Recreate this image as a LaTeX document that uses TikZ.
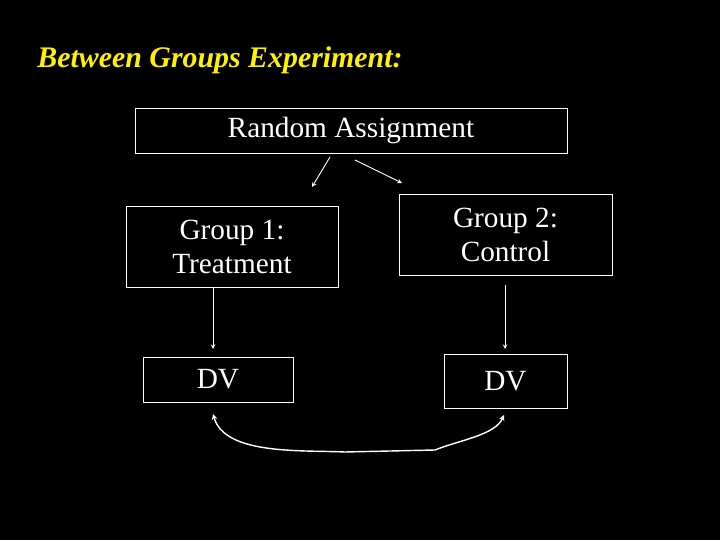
\documentclass[tikz,border=0pt]{standalone}
\usepackage{fontspec}
\setmainfont{Liberation Serif}
\begin{document}
\begin{tikzpicture}[x=0.03cm,y=-0.03cm,
 bx/.style={draw=white,line width=0.6pt,fill=black,text=white,font=\fontsize{25}{29}\selectfont,align=center},
 ar/.style={draw=white,line width=0.8pt,-stealth}]
\fill[black] (0,0) rectangle (720,540);
\node[font=\fontsize{25.5}{29}\selectfont\bfseries\itshape,text=yellow] (t) at (220,60) {Between Groups Experiment:};
\node[bx,minimum width=432*0.03cm,minimum height=45*0.03cm] (ra) at (351,130.5) {Random Assignment};
\node[bx,minimum width=212*0.03cm,minimum height=81*0.03cm] (g1) at (232,246.5) {Group 1:\\Treatment};
\node[bx,minimum width=213*0.03cm,minimum height=81*0.03cm] (g2) at (505.5,234.5) {Group 2:\\Control};
\node[bx,minimum width=150*0.03cm,minimum height=45*0.03cm] (d1) at (218,379.5) {DV};
\node[bx,minimum width=123*0.03cm,minimum height=54*0.03cm] (d2) at (505.5,381) {DV};
\coordinate (a1) at (330,157); \coordinate (a1e) at (312,187);
\coordinate (a2) at (355,160); \coordinate (a2e) at (402,183);
\draw[ar] (a1) -- (a1e);
\draw[ar] (a2) -- (a2e);
\coordinate (b1) at (213,287); \coordinate (b1e) at (213,349);
\coordinate (b2) at (505,285); \coordinate (b2e) at (505,349);
\draw[ar] (b1) -- (b1e);
\draw[ar] (b2) -- (b2e);
\coordinate (c1) at (213,414); \coordinate (c2) at (504,415);
\draw[draw=white,line width=1.2pt,stealth-stealth] (c1) .. controls (225,455) and (300,450) .. (345,452) -- (435,450) .. controls (460,440) and (495,435) .. (c2);
\end{tikzpicture}
\end{document}
